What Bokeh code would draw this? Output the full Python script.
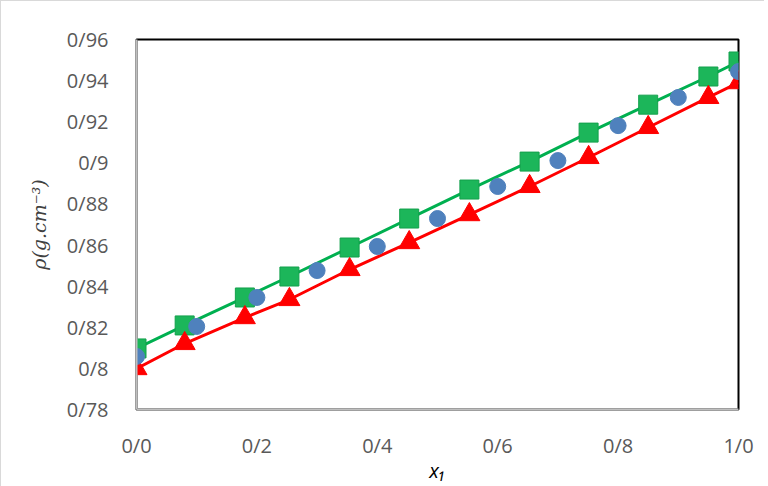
from bokeh.plotting import figure
from bokeh.models import FixedTicker
from bokeh.embed import file_html
from bokeh.resources import INLINE

# data
green_x = [0.0, 0.08, 0.18, 0.254, 0.354, 0.453, 0.553, 0.653, 0.751, 0.85, 0.95, 1.0]
green_y = [0.8097, 0.8209, 0.8345, 0.8447, 0.8588, 0.8729, 0.887, 0.9006, 0.9147, 0.9283, 0.942, 0.9493]
red_x = [0.0, 0.08, 0.18, 0.254, 0.354, 0.453, 0.553, 0.653, 0.751, 0.85, 0.95, 1.0]
red_y = [0.7999, 0.8121, 0.8247, 0.8335, 0.8481, 0.8612, 0.8748, 0.8885, 0.9026, 0.9172, 0.9318, 0.939]
blue_x = [0.0, 0.1, 0.2, 0.3, 0.4, 0.5, 0.6, 0.7, 0.8, 0.9, 1.0]
blue_y = [0.8058, 0.8204, 0.8345, 0.8476, 0.8593, 0.8729, 0.8885, 0.9011, 0.9181, 0.9318, 0.9444]

x_ticks = [0.0, 0.2, 0.4, 0.6, 0.8, 1.0]
x_labels = ["0/0", "0/2", "0/4", "0/6", "0/8", "1/0"]
y_ticks = [0.78, 0.80, 0.82, 0.84, 0.86, 0.88, 0.90, 0.92, 0.94, 0.96]
y_labels = ["0/78", "0/8", "0/82", "0/84", "0/86", "0/88", "0/9", "0/92", "0/94", "0/96"]

W, H = 764, 486
p = figure(width=W, height=H, x_range=(0, 1), y_range=(0.78, 0.96),
           output_backend="svg", toolbar_location=None,
           min_border_left=135, min_border_right=W - 737, min_border_top=38,
           min_border_bottom=H - 408)
p.styles = {"border-left": "1px solid #d9d9d9", "border-top": "1px solid #d9d9d9"}

p.xgrid.visible = False
p.ygrid.visible = False
p.outline_line_color = "black"
p.outline_line_width = 2

for ax in (p.xaxis, p.yaxis):
    ax.major_tick_line_color = None
    ax.minor_tick_line_color = None
    ax.axis_line_color = "#bfbfbf"
    ax.axis_line_width = 2
    ax.major_label_text_color = "#595959"
    ax.major_label_text_font = "Open Sans"
    ax.major_label_text_font_size = "20px"

p.xaxis.ticker = FixedTicker(ticks=x_ticks)
p.yaxis.ticker = FixedTicker(ticks=y_ticks)
p.xaxis.major_label_overrides = {t: l for t, l in zip(x_ticks, x_labels)}
p.yaxis.major_label_overrides = {t: l for t, l in zip(y_ticks, y_labels)}
p.xaxis.major_label_standoff = 16
p.yaxis.major_label_standoff = 22

p.yaxis.axis_label = "\u03c1(g.cm\u207b\u00b3)"
p.yaxis.axis_label_text_font = "DejaVu Serif"
p.yaxis.axis_label_text_font_style = "italic"
p.yaxis.axis_label_text_font_size = "19px"
p.yaxis.axis_label_text_color = "#404040"
p.yaxis.axis_label_standoff = 14

p.xaxis.axis_label = "x\u2081"
p.xaxis.axis_label_text_font = "Open Sans"
p.xaxis.axis_label_text_font_style = "italic"
p.xaxis.axis_label_text_font_size = "20px"
p.xaxis.axis_label_text_color = "#000000"
p.xaxis.axis_label_standoff = -5

# green series
p.line(green_x, green_y, line_color="#00B050", line_width=3)
p.scatter(green_x, green_y, marker="square", size=19, fill_color="#1CB65A",
          line_color="#13A04C", line_width=1)
# red series
p.line(red_x, red_y, line_color="#FF0000", line_width=3)
p.scatter(red_x, red_y, marker="triangle", size=21, fill_color="#FF0000", line_color="#FF0000")
# blue series
p.scatter(blue_x, blue_y, marker="circle", size=16, fill_color="#4F81BD", line_color="#4F81BD")

open("out.html", "w").write(file_html(p, INLINE))
